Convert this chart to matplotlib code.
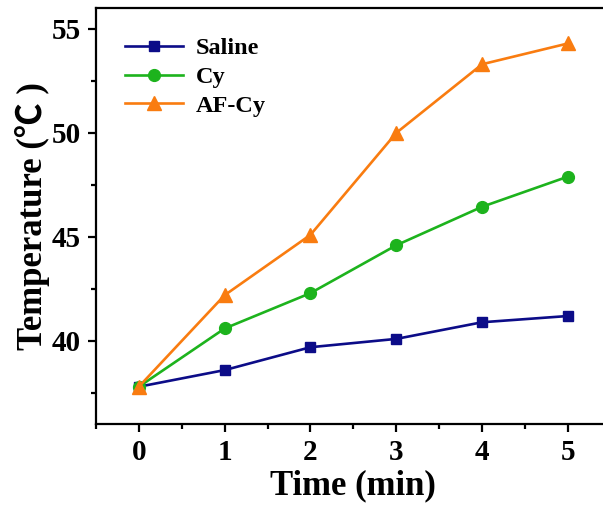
import matplotlib
matplotlib.use("Agg")
import matplotlib.pyplot as plt
from matplotlib.ticker import MultipleLocator

time_min = [0, 1, 2, 3, 4, 5]
saline = [37.8, 38.6, 39.7, 40.1, 40.9, 41.2]
cy = [37.8, 40.6, 42.3, 44.6, 46.45, 47.9]
af_cy = [37.8, 42.2, 45.1, 50.0, 53.3, 54.3]

plt.rcParams['font.family'] = ['Liberation Serif', 'Noto Sans CJK SC']
plt.rcParams['font.weight'] = 'bold'

fig = plt.figure(figsize=(6.03, 5.05), dpi=100)
ax = fig.add_axes([0.159, 0.160, 0.854, 0.824])

lw = 1.9
ax.plot(time_min, saline, color='#0c0c88', marker='s', ms=7.5, lw=lw, label='Saline')
ax.plot(time_min, cy, color='#1db31d', marker='o', ms=8.5, lw=lw, label='Cy')
ax.plot(time_min, af_cy, color='#f97c10', marker='^', ms=10, lw=lw, label='AF-Cy')

ax.set_xlim(-0.5, 5.5)
ax.set_ylim(36, 56)
ax.xaxis.set_major_locator(MultipleLocator(1))
ax.xaxis.set_minor_locator(MultipleLocator(0.5))
ax.yaxis.set_major_locator(MultipleLocator(5))
ax.yaxis.set_minor_locator(MultipleLocator(2.5))

for s in ax.spines.values():
    s.set_linewidth(1.6)
ax.tick_params(which='major', direction='out', length=6, width=1.6, labelsize=21, pad=5)
ax.tick_params(which='minor', direction='out', length=3.5, width=1.6)
for lab in ax.get_xticklabels() + ax.get_yticklabels():
    lab.set_fontweight('bold')

ax.set_xlabel('Time (min)', fontsize=25, fontweight='bold', labelpad=2)
ax.set_ylabel('Temperature (℃ )', fontsize=25, fontweight='bold', labelpad=1)

leg = ax.legend(loc='upper left', bbox_to_anchor=(0.0, 1.0), frameon=False,
                prop={'weight': 'bold', 'size': 17.5, 'family': 'Liberation Serif'},
                handlelength=2.4, handletextpad=0.5, labelspacing=0.28,
                borderaxespad=0.8)

fig.savefig('out.png', dpi=100)
